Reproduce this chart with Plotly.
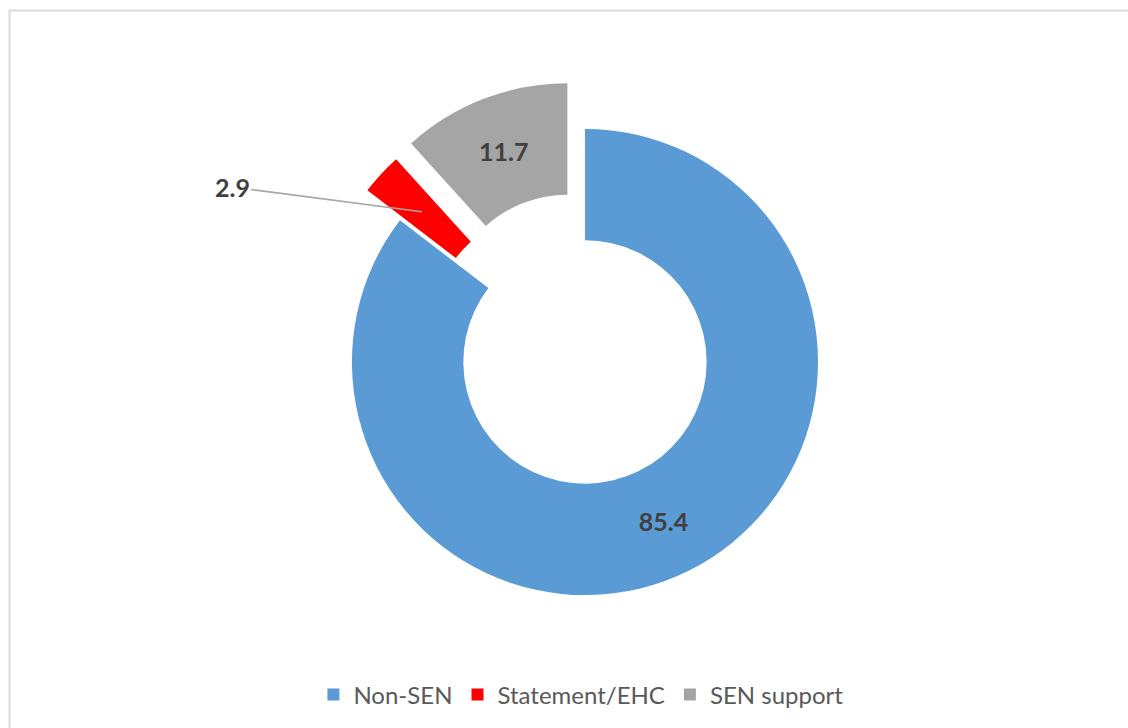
import math
import plotly.graph_objects as go

# Pupil groups and their share (%)
labels = ["Non-SEN", "Statement/EHC", "SEN support"]
values = [85.4, 2.9, 11.7]
colors = ["#5B9BD5", "#FF0000", "#A5A5A5"]
pulls = [0.0, 0.19, 0.21]

W, H = 1128, 728
HOLE = 0.522
# pie domain (paper fractions); margins are zero so paper == page
DOM_X = [0.2686, 0.7686]
DOM_Y = [0.1154, 0.8901]

inside_text = [f"{v:.1f}" for v in values]
inside_text[1] = ""  # small slice labelled outside with a leader line

fig = go.Figure(
    go.Pie(
        labels=labels,
        values=values,
        marker=dict(colors=colors, line=dict(width=0)),
        pull=pulls,
        hole=HOLE,
        sort=False,
        direction="clockwise",
        rotation=0,
        text=inside_text,
        textinfo="text",
        textposition="inside",
        insidetextorientation="horizontal",
        textfont=dict(family="Lato", size=25, color="#404040", weight="bold"),
        domain=dict(x=DOM_X, y=DOM_Y),
        hoverinfo="label+value",
    )
)

# geometry of the pie as plotly lays it out, used to anchor the leader line
box_w = (DOM_X[1] - DOM_X[0]) * W
box_h = (DOM_Y[1] - DOM_Y[0]) * H
r = min(box_w, box_h) / (2 + 2 * max(pulls))
cx = W * (DOM_X[0] + DOM_X[1]) / 2
cy = H * (1 - (DOM_Y[0] + DOM_Y[1]) / 2)
total = sum(values)
mid = 2 * math.pi * (sum(values[:1]) + values[1] / 2) / total
rad = r * (1 + HOLE) / 2 + pulls[1] * r
tip_x = cx + rad * math.sin(mid)
tip_y = cy - rad * math.cos(mid)

fig.add_annotation(
    x=tip_x / W,
    y=1 - tip_y / H,
    xref="paper",
    yref="paper",
    text=f"<b>{values[1]:.1f}</b>",
    font=dict(family="Lato", size=25, color="#404040"),
    showarrow=True,
    arrowhead=0,
    arrowwidth=1.5,
    arrowcolor="#A6A6A6",
    ax=232 - tip_x,
    ay=187 - tip_y,
    standoff=0,
)

# chart frame
fig.add_shape(
    type="rect",
    xref="paper",
    yref="paper",
    x0=9.5 / W,
    y0=-0.02,
    x1=1.02,
    y1=1 - 10.5 / H,
    line=dict(color="#D9D9D9", width=2),
    fillcolor="rgba(0,0,0,0)",
)

fig.update_layout(
    width=W,
    height=H,
    margin=dict(l=0, r=0, t=0, b=0),
    paper_bgcolor="white",
    plot_bgcolor="white",
    showlegend=True,
    legend=dict(
        orientation="h",
        x=0.515,
        xanchor="center",
        y=1 - 695 / H,
        yanchor="middle",
        font=dict(family="Lato", size=24, color="#595959"),
        itemwidth=30,
    ),
)

fig.write_html("out.html")
